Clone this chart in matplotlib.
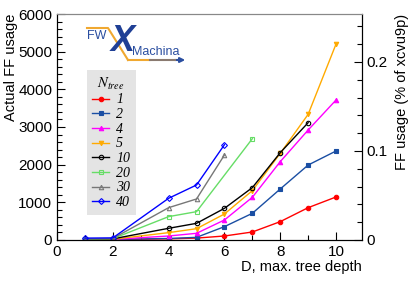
import numpy as np
import matplotlib
matplotlib.use("Agg")
import matplotlib.pyplot as plt
from matplotlib.ticker import MultipleLocator
from matplotlib.lines import Line2D

# data (FF usage vs max tree depth, per number of trees)
N_TREE = ["1", "2", "4", "5", "10", "20", "30", "40"]
D_1 = [1, 2, 4, 5, 6, 7, 8, 9, 10]
FF_1 = [5, 10, 30, 50, 106, 212, 487, 858, 1142]
D_2 = [1, 2, 4, 5, 6, 7, 8, 9, 10]
FF_2 = [8, 15, 40, 70, 354, 708, 1354, 1990, 2363]
D_4 = [1, 2, 4, 5, 6, 7, 8, 9, 10]
FF_4 = [10, 15, 106, 177, 531, 1133, 2080, 2920, 3717]
D_5 = [1, 2, 4, 5, 6, 7, 8, 9, 10]
FF_5 = [12, 20, 195, 300, 690, 1310, 2300, 3337, 5204]
D_10 = [1, 2, 4, 5, 6, 7, 8, 9]
FF_10 = [20, 30, 310, 442, 840, 1390, 2318, 3115]
D_20 = [1, 2, 4, 5, 7]
FF_20 = [25, 35, 620, 752, 2690]
D_30 = [1, 2, 4, 5, 6]
FF_30 = [30, 40, 858, 1089, 2257]
D_40 = [1, 2, 4, 5, 6]
FF_40 = [50, 55, 1107, 1460, 2530]

XCVU9P_FF = 2364480  # total FFs on the device

SERIES = [
    (D_1, FF_1, "#ff0000", "o", True),
    (D_2, FF_2, "#1a4ea3", "s", True),
    (D_4, FF_4, "#ff00ff", "^", True),
    (D_5, FF_5, "#ffaa00", "v", True),
    (D_10, FF_10, "#000000", "o", False),
    (D_20, FF_20, "#66dd66", "s", False),
    (D_30, FF_30, "#777777", "^", False),
    (D_40, FF_40, "#0000ff", "D", False),
]

plt.rcParams["font.family"] = ["Liberation Sans", "DejaVu Sans"]
plt.rcParams["mathtext.fontset"] = "stix"

fig = plt.figure(figsize=(4.11, 2.83), dpi=100)
ax = fig.add_axes([0.1387, 0.152, 0.7421, 0.7985])

handles = []
for (d, ff, col, mk, filled), lab in zip(SERIES, N_TREE):
    ms = 3.2 if mk != "D" else 3.0
    h, = ax.plot(d, ff, "-", color=col, lw=1.0, marker=mk, ms=ms,
                 mfc=col if filled else "none", mec=col, mew=0.8)
    handles.append(h)

ax.set_xlim(0, 10.93)
ax.set_ylim(0, 6000)
ax.xaxis.set_major_locator(MultipleLocator(2))
ax.xaxis.set_minor_locator(MultipleLocator(1))
ax.yaxis.set_major_locator(MultipleLocator(1000))
ax.yaxis.set_minor_locator(MultipleLocator(200))
ax.tick_params(which="both", direction="in", top=False, right=False, labelsize=11)
ax.tick_params(which="major", length=6, width=0.8)
ax.tick_params(which="minor", length=3.5, width=0.8)
ax.spines["top"].set_color("#888888")
ax.set_xlabel("D, max. tree depth", loc="right", fontsize=10.5, labelpad=1)
ax.set_ylabel("Actual FF usage", loc="top", fontsize=10.5, labelpad=0)

ax2 = ax.twinx()
ax2.set_ylim(0, 6000 / XCVU9P_FF * 100)
ax2.yaxis.set_major_locator(MultipleLocator(0.1))
ax2.yaxis.set_minor_locator(MultipleLocator(0.02))
ax2.tick_params(which="both", direction="in", labelsize=11)
ax2.tick_params(which="major", length=6, width=0.8)
ax2.tick_params(which="minor", length=3.5, width=0.8)
ax2.yaxis.set_major_formatter(plt.FuncFormatter(lambda v, p: "0" if v == 0 else f"{v:g}"))
ax2.set_ylabel("FF usage (% of xcvu9p)", loc="top", fontsize=10.5, labelpad=5)
ax2.spines["top"].set_color("#888888")

leg = ax.legend(handles, N_TREE, loc="upper left", bbox_to_anchor=(0.098, 0.752),
                title=r"$N_{tree}$", frameon=True, fancybox=False,
                facecolor="#e4e4e4", edgecolor="none", framealpha=1,
                prop={"family": "Liberation Serif", "style": "italic", "size": 10},
                handlelength=1.2, handletextpad=0.5, labelspacing=0.12,
                borderpad=0.4, borderaxespad=0)
leg.get_title().set_fontsize(10.5)

# FWXMachina logo (figure pixel coords, origin at top-left)
W, H = 411, 283
def fx(px):
    return px / W
def fy(py):
    return 1 - py / H

fig.add_artist(Line2D([fx(87), fx(108), fx(128)], [fy(28), fy(28), fy(60)],
                      color="#f0a830", lw=1.5, transform=fig.transFigure))
fig.add_artist(Line2D([fx(128), fx(150)], [fy(60), fy(60)],
                      color="#f0a830", lw=1.5, transform=fig.transFigure))
fig.add_artist(Line2D([fx(150), fx(175)], [fy(60), fy(60)],
                      color="#8a7a70", lw=1.5, transform=fig.transFigure))
ax.annotate("", xy=(fx(188), fy(60)), xytext=(fx(172), fy(60)),
            xycoords="figure fraction", textcoords="figure fraction",
            arrowprops=dict(arrowstyle="-|>", color="#2a4ea0", lw=1.5,
                            mutation_scale=7))
fig.text(fx(87), fy(36), "FW", color="#2a4ea0", fontsize=9, va="center", ha="left")
fig.text(fx(123), fy(42), "X", color="#1f3f95", fontsize=26, fontweight="bold",
         style="italic", va="center", ha="center")
fig.text(fx(132), fy(52), "Machina", color="#2a4ea0", fontsize=9, va="center", ha="left")

fig.savefig("out.png", dpi=100)
